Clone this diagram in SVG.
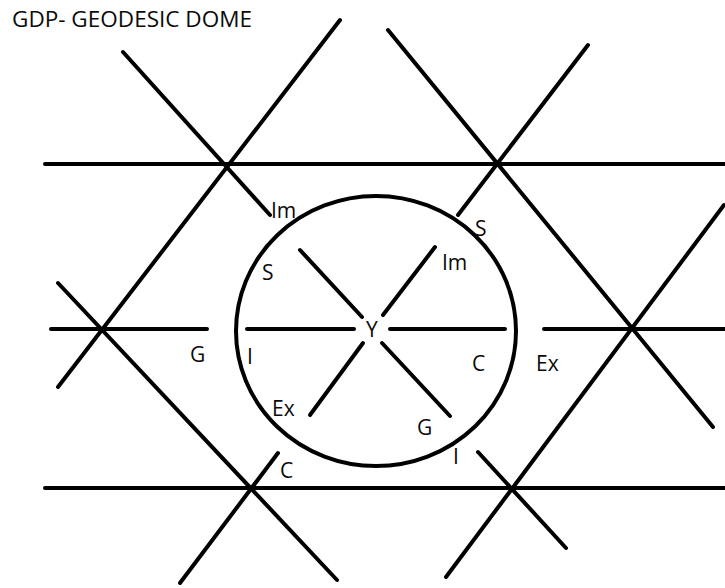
<svg xmlns="http://www.w3.org/2000/svg" width="725" height="588" viewBox="0 0 725 588">
<style>
.ln{stroke:#000;stroke-width:4;stroke-linecap:round;fill:none}
.t{font-family:"Open Sans","Noto Sans",sans-serif;font-size:21px;fill:#0a0a0a}
.title{font-family:"Open Sans","Noto Sans",sans-serif;font-size:21px;fill:#0a0a0a}
</style>
<rect width="725" height="588" fill="#fff"/>
<text class="title" x="12" y="27" textLength="240" lengthAdjust="spacingAndGlyphs">GDP- GEODESIC DOME</text>
<g id="connectors">
<line class="ln" x1="45" y1="164" x2="725" y2="164"/>
<line class="ln" x1="51" y1="329" x2="207" y2="329"/>
<line class="ln" x1="247" y1="329" x2="354" y2="329"/>
<line class="ln" x1="390" y1="329" x2="505" y2="329"/>
<line class="ln" x1="544" y1="329" x2="725" y2="329"/>
<line class="ln" x1="45" y1="488" x2="725" y2="488"/>
<line class="ln" x1="123" y1="52" x2="270" y2="215"/>
<line class="ln" x1="58" y1="387" x2="340" y2="20"/>
<line class="ln" x1="58" y1="283" x2="337" y2="580"/>
<line class="ln" x1="180" y1="583" x2="278" y2="453"/>
<line class="ln" x1="388" y1="30" x2="713" y2="427"/>
<line class="ln" x1="458" y1="215" x2="588" y2="45"/>
<line class="ln" x1="446" y1="577" x2="724" y2="205"/>
<line class="ln" x1="478" y1="452" x2="566" y2="548"/>
<line class="ln" x1="300" y1="250" x2="362" y2="317"/>
<line class="ln" x1="435" y1="247" x2="383" y2="315"/>
<line class="ln" x1="363" y1="343" x2="310" y2="415"/>
<line class="ln" x1="382" y1="343" x2="450" y2="416"/>
</g>
<g id="dome">
<ellipse class="ln" cx="376" cy="331" rx="140" ry="135"/>
</g>
<g id="labels">
<text class="t" x="271" y="218">Im</text>
<text class="t" x="262" y="280">S</text>
<text class="t" x="475" y="236">S</text>
<text class="t" x="442" y="270">Im</text>
<text class="t" x="190" y="362">G</text>
<text class="t" x="247" y="364">I</text>
<text class="t" x="272" y="416">Ex</text>
<text class="t" x="366" y="337">Y</text>
<text class="t" x="472" y="371">C</text>
<text class="t" x="536" y="371">Ex</text>
<text class="t" x="417" y="435">G</text>
<text class="t" x="453" y="464">I</text>
<text class="t" x="280" y="478">C</text>
</g>
</svg>
